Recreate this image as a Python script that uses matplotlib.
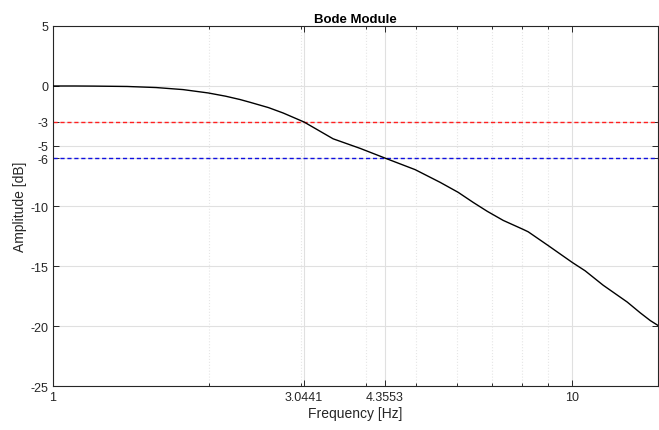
import matplotlib
matplotlib.use("Agg")
import matplotlib.pyplot as plt
import numpy as np
from matplotlib.ticker import FixedLocator, NullFormatter

# Bode magnitude
freq_hz = [1.0, 1.1, 1.2, 1.389, 1.58, 1.78, 1.99, 2.15, 2.293, 2.397, 2.6, 2.775,
           3.0441, 3.463, 3.905, 4.3553, 4.983, 5.568, 6.03, 6.446, 6.859, 7.364,
           8.046, 8.227, 8.992, 9.482, 10.0, 10.59, 11.47, 12.76, 13.52, 14.14, 14.65]
amp_db = [0.0, 0.0, -0.01, -0.04, -0.13, -0.3, -0.58, -0.85, -1.13, -1.36, -1.8,
          -2.25, -3.0, -4.4, -5.2, -6.0, -6.97, -8.03, -8.86, -9.7, -10.44, -11.2,
          -11.95, -12.15, -13.3, -14.0, -14.7, -15.4, -16.6, -18.0, -18.9, -19.55,
          -19.97]

f_3db = 3.0441
f_6db = 4.3553
x_ticks = [1, f_3db, f_6db, 10]
x_ticklabels = ["1", "3.0441", "4.3553", "10"]
y_ticks = [-25, -20, -15, -10, -6, -5, -3, 0, 5]

plt.rcParams["font.family"] = ["Liberation Sans", "DejaVu Sans"]
plt.rcParams["axes.unicode_minus"] = False
txt = "#262626"

fig = plt.figure(figsize=(6.59, 4.31), dpi=100)
ax = fig.add_axes([0.0804, 0.102, 0.9186, 0.8354])

ax.semilogx(freq_hz, amp_db, color="black", linewidth=1.0, zorder=3)
ax.axhline(-3, color="#ff2020", linestyle=(0, (3, 2)), linewidth=1.0, zorder=2)
ax.axhline(-6, color="#1010e0", linestyle=(0, (3, 2)), linewidth=1.0, zorder=2)

ax.set_xlim(1, 14.65)
ax.set_ylim(-25, 5)
ax.set_xticks(x_ticks)
ax.set_xticklabels(x_ticklabels)
ax.xaxis.set_minor_locator(FixedLocator([2, 3, 4, 5, 6, 7, 8, 9]))
ax.xaxis.set_minor_formatter(NullFormatter())
ax.set_yticks(y_ticks)

ax.grid(True, which="major", color="#e0e0e0", linewidth=0.8, linestyle="-")
ax.grid(True, which="minor", axis="x", color="#e6e6e6", linewidth=0.8, linestyle=":")
ax.set_axisbelow(True)

ax.tick_params(which="both", direction="in", top=True, right=True, colors=txt,
               labelsize=9, width=0.7)
ax.tick_params(which="major", length=4)
ax.tick_params(which="minor", length=2.5)
for s in ax.spines.values():
    s.set_color(txt)
    s.set_linewidth(0.8)

ax.set_title("Bode Module", fontsize=9.5, fontweight="bold", color="black", pad=3)
ax.set_xlabel("Frequency [Hz]", fontsize=10, color=txt, labelpad=2)
ax.set_ylabel("Amplitude [dB]", fontsize=10, color=txt, labelpad=2)

fig.savefig("out.png", dpi=100)
